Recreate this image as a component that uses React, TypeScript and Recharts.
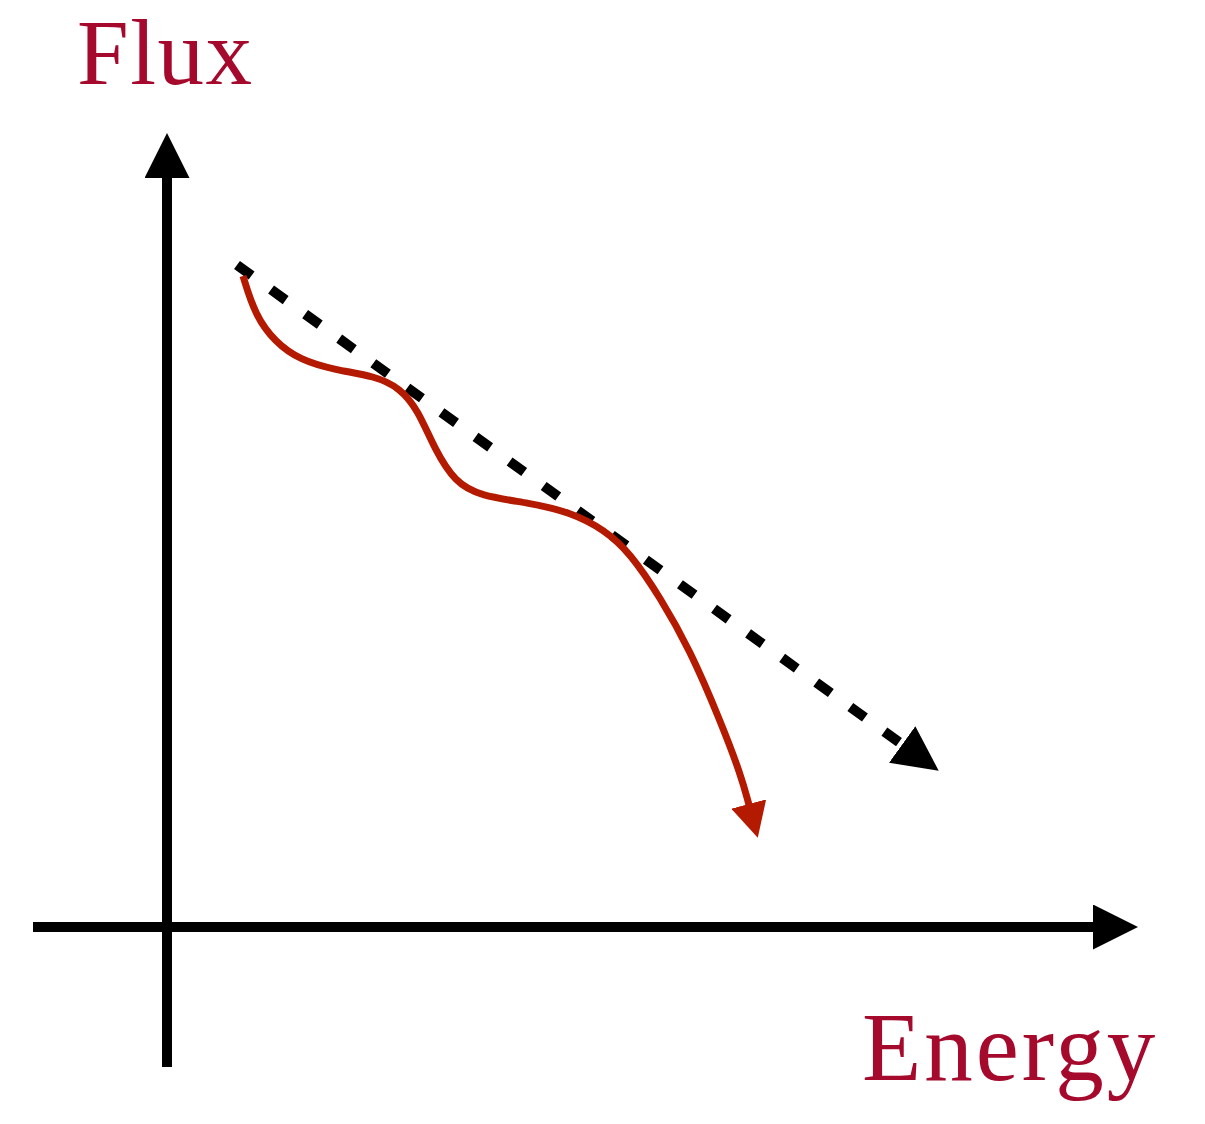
import React from 'react';
import { ComposedChart, Line, XAxis, YAxis } from 'recharts';

// coordinates are relative to the axis origin (energy to the right, flux upward)
const energyAxis = [
    { x: -134, y: 0 },
    { x: 927, y: 0 },
];

const fluxAxis = [
    { x: 0, y: -140 },
    { x: 0, y: 750 },
];

// straight power-law trend (dashed)
const powerLaw = [
    { x: 70, y: 662 },
    { x: 736, y: 182 },
];

// measured spectrum with bumps and a cutoff
const spectrumX = [76, 88, 108, 133, 168, 208, 233, 251, 268, 288, 313, 363, 403, 438, 463, 493, 523, 553, 574, 582];
const spectrumY = [651, 612, 585, 567, 557, 551, 539, 517, 477, 445, 431, 424, 415, 397, 374, 330, 277, 207, 152, 122];
const spectrum = spectrumX.map((x, i) => ({ x, y: spectrumY[i] }));

const labelColor = '#A50A2D';
const curveColor = '#B41A00';

export default function App() {
    return (
        <div style={{ position: 'absolute', left: 0, top: 0, width: 1205, height: 1124, background: '#fff' }}>
            <ComposedChart width={1205} height={1124} margin={{ top: 0, right: 0, bottom: 0, left: 0 }}>
                <defs>
                    <marker id="arrowBlack" markerUnits="userSpaceOnUse" viewBox="0 0 45 45" markerWidth={45} markerHeight={45} refX={1} refY={22.5} orient="auto">
                        <path d="M0,0 L45,22.5 L0,45 Z" fill="#000" />
                    </marker>
                    <marker id="arrowRed" markerUnits="userSpaceOnUse" viewBox="0 0 35 36" markerWidth={35} markerHeight={36} refX={1} refY={18} orient="auto">
                        <path d="M0,0 L35,18 L0,36 Z" fill={curveColor} />
                    </marker>
                </defs>
                <XAxis type="number" dataKey="x" domain={[-167, 1038]} hide allowDataOverflow />
                <YAxis type="number" dataKey="y" domain={[-197, 927]} hide allowDataOverflow />

                <Line data={energyAxis} dataKey="y" type="linear" stroke="#000" strokeWidth={10} dot={false} activeDot={false} markerEnd="url(#arrowBlack)" isAnimationActive={false} />
                <Line data={fluxAxis} dataKey="y" type="linear" stroke="#000" strokeWidth={10} dot={false} activeDot={false} markerEnd="url(#arrowBlack)" isAnimationActive={false} />
                <Line data={powerLaw} dataKey="y" type="linear" stroke="#000" strokeWidth={10} strokeDasharray="18 24" dot={false} activeDot={false} markerEnd="url(#arrowBlack)" isAnimationActive={false} />
                <Line data={spectrum} dataKey="y" type="basis" stroke={curveColor} strokeWidth={7} dot={false} activeDot={false} markerEnd="url(#arrowRed)" isAnimationActive={false} />

                <text x={77} y={84} fill={labelColor} fontFamily="'Liberation Serif', serif" fontSize={93} letterSpacing={1.5}>Flux</text>
                <text x={862} y={1080} fill={labelColor} fontFamily="'Liberation Serif', serif" fontSize={97} letterSpacing={3}>Energy</text>
            </ComposedChart>
        </div>
    );
}
